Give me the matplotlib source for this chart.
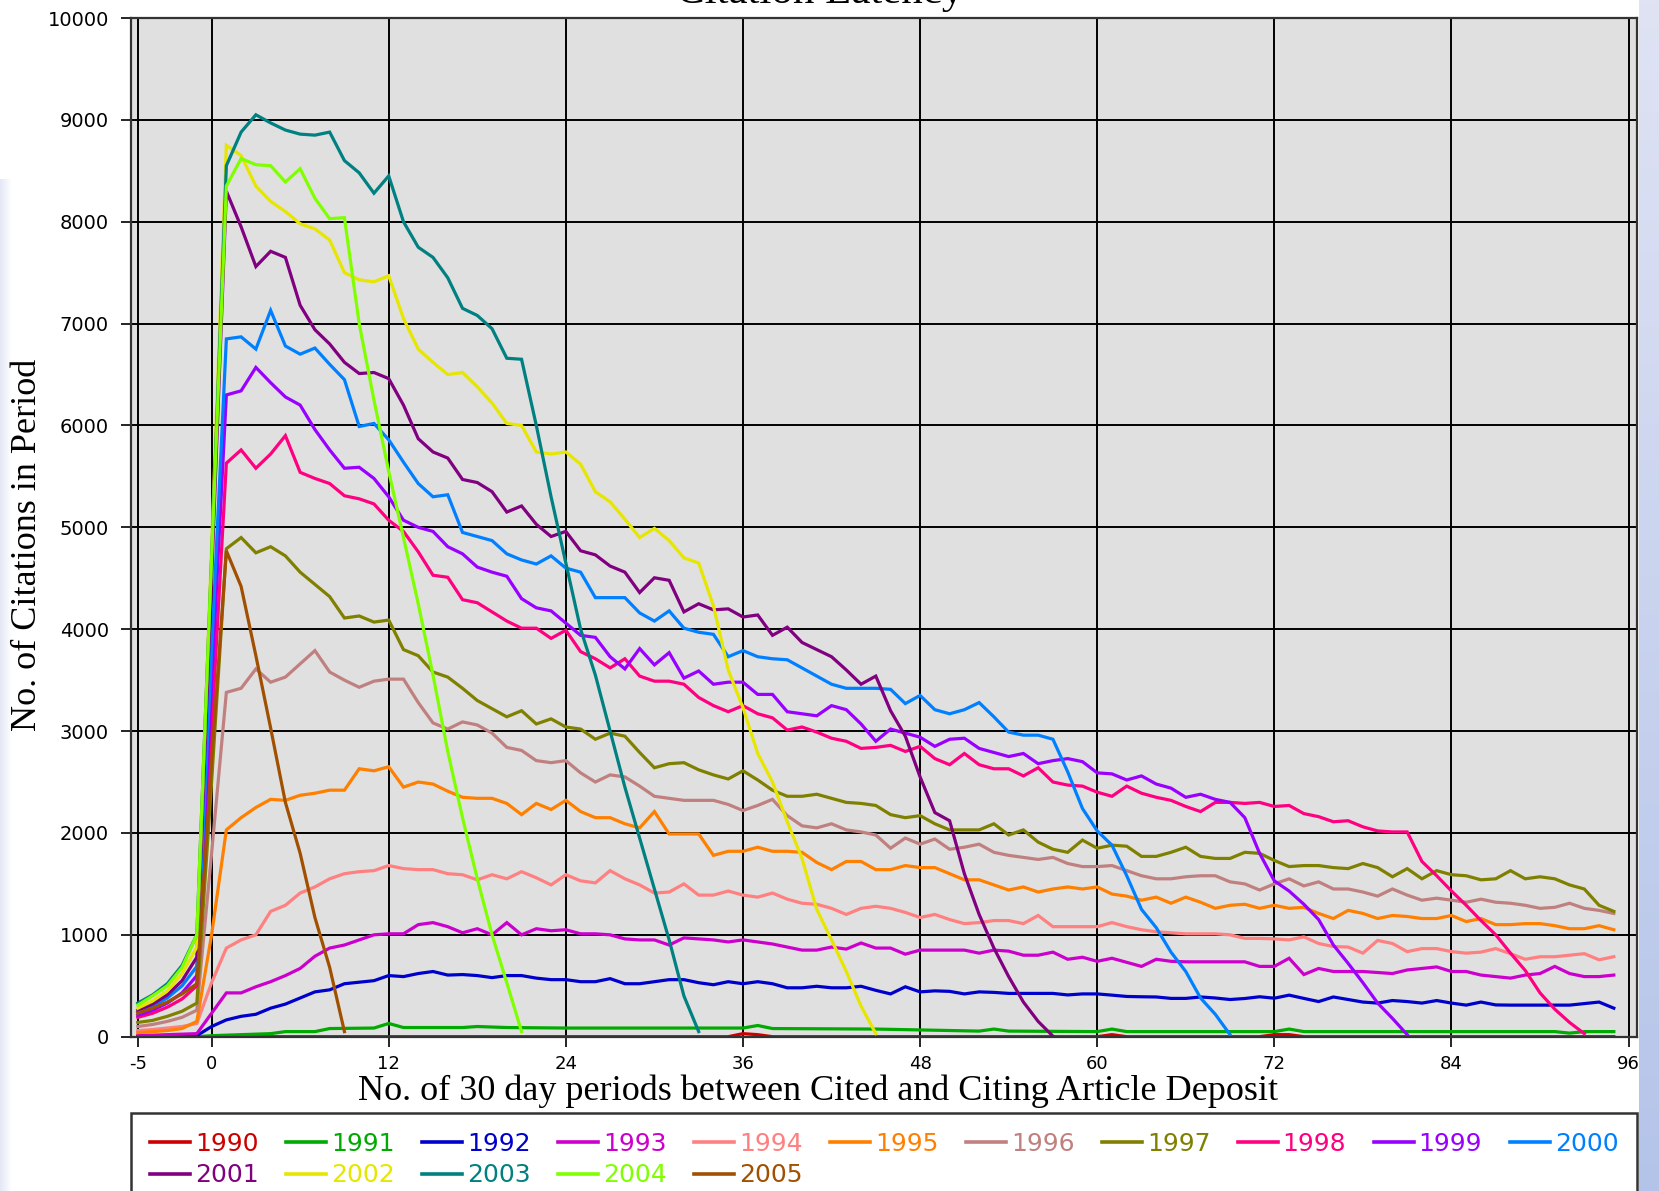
import numpy as np
import matplotlib
matplotlib.use("Agg")
import matplotlib.pyplot as plt
from matplotlib.colors import LinearSegmentedColormap

# citations per 30 day period, one list per deposit year, starting at period -5
# (1990 and 1991 are nearly flat, so they are given as period/count knots)
p1990 = [-5, 35, 36, 37, 38, 60, 61, 62, 71, 72, 73, 74, 95]
n1990 = [0, 0, 30, 20, 0, 0, 20, 0, 0, 20, 20, 0, 0]

p1991 = [-5, -1, 0, 4, 5, 7, 8, 11, 12, 13, 17, 18, 20, 24, 30, 36, 37, 38,
         45, 52, 53, 54, 60, 61, 62, 72, 73, 74, 91, 92, 93, 95]
n1991 = [0, 0, 10, 30, 50, 50, 80, 85, 130, 90, 90, 100, 90, 85, 85, 85, 110, 80,
         75, 55, 75, 55, 50, 75, 50, 50, 75, 50, 50, 35, 50, 50]

y1992 = [0, 0, 0, 0, 10, 100,
         165, 200, 220, 280, 320, 380, 440, 460, 520, 535, 550, 600,
         590, 620, 640, 605, 610, 600, 580, 600, 600, 575, 560, 560,
         540, 540, 570, 520, 520, 540, 560, 560, 530, 510, 540, 520,
         540, 520, 480, 480, 495, 480, 480, 495, 455, 420, 490, 440,
         450, 445, 420, 440, 435, 425, 425, 425, 425, 410, 420, 420,
         408, 395, 392, 390, 376, 376, 390, 380, 365, 375, 392, 378,
         408, 376, 345, 390, 365, 340, 330, 355, 345, 330, 355, 330,
         310, 340, 312, 310, 310, 310, 310, 310, 325, 340, 280]

y1993 = [15, 15, 20, 25, 30, 230,
         430, 430, 490, 540, 600, 670, 790, 870, 900, 950, 1000, 1010,
         1010, 1100, 1120, 1080, 1020, 1060, 1000, 1120, 1000, 1060, 1040, 1050,
         1010, 1010, 1000, 960, 950, 950, 900, 970, 960, 950, 930, 950,
         930, 910, 880, 850, 850, 880, 860, 920, 870, 870, 810, 850,
         850, 850, 850, 820, 850, 840, 800, 800, 830, 760, 780, 740,
         770, 730, 690, 760, 740, 735, 735, 735, 735, 735, 690, 690,
         770, 610, 670, 640, 640, 640, 630, 620, 655, 670, 685, 640,
         640, 605, 590, 575, 605, 620, 690, 620, 590, 590, 605]

y1994 = [60, 70, 85, 100, 130, 530,
         870, 950, 1000, 1230, 1290, 1410, 1470, 1550, 1600, 1620, 1630, 1680,
         1650, 1640, 1640, 1600, 1590, 1540, 1590, 1550, 1620, 1560, 1490, 1590,
         1530, 1510, 1630, 1550, 1490, 1410, 1420, 1500, 1390, 1390, 1430, 1390,
         1370, 1410, 1350, 1310, 1300, 1260, 1200, 1260, 1280, 1260, 1220, 1170,
         1200, 1150, 1110, 1120, 1140, 1140, 1110, 1190, 1080, 1080, 1080, 1080,
         1120, 1080, 1050, 1030, 1020, 1010, 1010, 1010, 1000, 965, 965, 960,
         950, 980, 915, 885, 880, 820, 945, 915, 835, 865, 865, 835,
         820, 830, 865, 815, 760, 785, 785, 800, 815, 755, 785]

y1995 = [40, 50, 60, 80, 150, 1000,
         2030, 2150, 2250, 2330, 2320, 2370, 2390, 2420, 2420, 2630, 2610, 2650,
         2450, 2500, 2480, 2410, 2350, 2340, 2340, 2290, 2180, 2290, 2230, 2320,
         2210, 2150, 2150, 2090, 2050, 2210, 1990, 1990, 1990, 1780, 1820, 1820,
         1860, 1820, 1820, 1810, 1710, 1640, 1720, 1720, 1640, 1640, 1680, 1660,
         1660, 1600, 1540, 1540, 1490, 1440, 1470, 1420, 1450, 1470, 1450, 1470,
         1400, 1380, 1340, 1370, 1310, 1370, 1320, 1260, 1290, 1300, 1260, 1290,
         1260, 1270, 1210, 1160, 1240, 1210, 1160, 1190, 1180, 1160, 1160, 1190,
         1130, 1160, 1100, 1100, 1110, 1110, 1090, 1060, 1060, 1090, 1050]

y1996 = [100, 120, 150, 190, 260, 1800,
         3380, 3420, 3610, 3480, 3530, 3660, 3790, 3580, 3500, 3430, 3490, 3510,
         3510, 3280, 3080, 3020, 3090, 3060, 2980, 2840, 2810, 2710, 2690, 2710,
         2590, 2500, 2570, 2550, 2460, 2360, 2340, 2320, 2320, 2320, 2280, 2220,
         2270, 2330, 2170, 2070, 2050, 2090, 2030, 2010, 1980, 1850, 1950, 1890,
         1940, 1840, 1860, 1890, 1810, 1780, 1760, 1740, 1760, 1700, 1670, 1670,
         1680, 1630, 1580, 1550, 1550, 1570, 1580, 1580, 1520, 1500, 1440, 1500,
         1550, 1480, 1520, 1450, 1450, 1420, 1380, 1450, 1390, 1340, 1360, 1340,
         1320, 1350, 1320, 1310, 1290, 1260, 1270, 1310, 1260, 1240, 1210]

y1997 = [140, 160, 200, 250, 330, 2500,
         4790, 4900, 4750, 4810, 4720, 4560, 4440, 4320, 4110, 4130, 4070, 4090,
         3800, 3740, 3580, 3530, 3420, 3300, 3220, 3140, 3200, 3070, 3120, 3040,
         3020, 2920, 2980, 2950, 2790, 2640, 2680, 2690, 2620, 2570, 2530, 2610,
         2520, 2420, 2360, 2360, 2380, 2340, 2300, 2290, 2270, 2180, 2150, 2170,
         2090, 2030, 2030, 2030, 2090, 1980, 2030, 1910, 1840, 1810, 1930, 1850,
         1880, 1870, 1770, 1770, 1810, 1860, 1770, 1750, 1750, 1810, 1800, 1730,
         1670, 1680, 1680, 1660, 1650, 1700, 1660, 1570, 1650, 1550, 1630, 1590,
         1580, 1540, 1550, 1630, 1550, 1570, 1550, 1490, 1450, 1290, 1230]

y1998 = [190, 230, 290, 370, 500, 3000,
         5630, 5760, 5580, 5720, 5900, 5540, 5480, 5430, 5310, 5280, 5230, 5070,
         4960, 4760, 4530, 4510, 4290, 4260, 4170, 4080, 4010, 4010, 3910, 3990,
         3780, 3710, 3620, 3710, 3540, 3490, 3490, 3460, 3330, 3250, 3190, 3250,
         3170, 3130, 3010, 3040, 2990, 2930, 2900, 2830, 2840, 2860, 2800, 2850,
         2730, 2670, 2780, 2670, 2630, 2630, 2560, 2640, 2500, 2470, 2460, 2400,
         2360, 2460, 2390, 2350, 2320, 2260, 2210, 2300, 2300, 2290, 2300, 2260,
         2270, 2190, 2160, 2110, 2120, 2060, 2020, 2010, 2010, 1720, 1580, 1430,
         1290, 1140, 1000, 820, 650, 430, 270, 140, 30]

y1999 = [210, 260, 330, 430, 600, 3450,
         6300, 6340, 6570, 6420, 6280, 6200, 5960, 5760, 5580, 5590, 5480, 5300,
         5070, 5000, 4960, 4810, 4740, 4610, 4560, 4520, 4300, 4210, 4180, 4060,
         3940, 3920, 3730, 3610, 3810, 3650, 3770, 3520, 3590, 3460, 3480, 3480,
         3360, 3360, 3190, 3170, 3150, 3250, 3210, 3070, 2900, 3020, 2980, 2940,
         2850, 2920, 2930, 2830, 2790, 2750, 2780, 2680, 2710, 2730, 2700, 2590,
         2580, 2520, 2560, 2480, 2440, 2350, 2380, 2330, 2300, 2150, 1800, 1530,
         1430, 1300, 1150, 900, 720, 530, 330, 180, 20]

y2000 = [240, 300, 380, 500, 690, 3800,
         6850, 6870, 6750, 7130, 6780, 6700, 6760, 6600, 6450, 5990, 6020, 5860,
         5640, 5430, 5300, 5320, 4950, 4910, 4870, 4740, 4680, 4640, 4720, 4600,
         4560, 4310, 4310, 4310, 4160, 4080, 4180, 4010, 3970, 3950, 3730, 3790,
         3730, 3710, 3700, 3620, 3540, 3460, 3420, 3420, 3420, 3410, 3270, 3350,
         3210, 3170, 3210, 3280, 3140, 2990, 2960, 2960, 2920, 2600, 2240, 2020,
         1880, 1580, 1250, 1070, 830, 640, 380, 220, 20]

y2001 = [260, 320, 410, 550, 780, 4500,
         8300, 7950, 7560, 7710, 7650, 7180, 6940, 6800, 6620, 6510, 6520, 6460,
         6200, 5870, 5740, 5680, 5470, 5440, 5350, 5150, 5210, 5030, 4910, 4960,
         4770, 4730, 4620, 4560, 4360, 4505, 4480, 4170, 4250, 4190, 4200, 4120,
         4140, 3940, 4020, 3870, 3800, 3730, 3600, 3460, 3540, 3200, 2950, 2550,
         2200, 2120, 1600, 1200, 870, 590, 340, 150, 5]

y2002 = [280, 350, 450, 620, 880, 4800,
         8750, 8650, 8350, 8200, 8100, 7980, 7930, 7820, 7500, 7430, 7410, 7470,
         7050, 6750, 6620, 6500, 6520, 6380, 6220, 6020, 6000, 5740, 5720, 5740,
         5620, 5350, 5250, 5080, 4900, 4990, 4870, 4700, 4650, 4230, 3600, 3230,
         2780, 2500, 2110, 1750, 1250, 950, 640, 300, 30]

y2003 = [330, 410, 520, 700, 1000, 4700,
         8550, 8880, 9050, 8970, 8900, 8860, 8850, 8880, 8600, 8480, 8280, 8450,
         8000, 7750, 7650, 7450, 7150, 7080, 6950, 6660, 6650, 6000, 5300, 4650,
         4000, 3550, 3000, 2450, 1950, 1450, 950, 400, 50]

y2004 = [310, 400, 500, 680, 1000, 4700,
         8350, 8620, 8560, 8550, 8390, 8520, 8230, 8030, 8040, 7000, 6250, 5550,
         4900, 4250, 3550, 2800, 2150, 1550, 1000, 530, 50]

y2005 = [230, 280, 340, 420, 520, 2700,
         4770, 4420, 3740, 3030, 2300, 1800, 1170, 680, 50]

years = ["1990", "1991", "1992", "1993", "1994", "1995", "1996", "1997",
         "1998", "1999", "2000", "2001", "2002", "2003", "2004", "2005"]
colors = ["#cc0000", "#00aa00", "#0000cc", "#cc00cc", "#ff8080", "#ff8000",
          "#c08080", "#808000", "#ff0080", "#9900ff", "#0080ff", "#800080",
          "#e6e600", "#008080", "#80ff00", "#a05000"]
dense = [y1992, y1993, y1994, y1995, y1996, y1997, y1998, y1999,
         y2000, y2001, y2002, y2003, y2004, y2005]

xticks = [-5, 0, 12, 24, 36, 48, 60, 72, 84, 96]
yticks = list(range(0, 10001, 1000))

W, H = 1659, 1191
fig = plt.figure(figsize=(W / 100, H / 100), dpi=100)
fig.patch.set_facecolor("white")

# blue edge strips of the slide background
grad = np.linspace(0, 1, 256).reshape(-1, 1)
right = fig.add_axes([1639 / W, 0, 20 / W, 1])
right.imshow(grad, aspect="auto",
             cmap=LinearSegmentedColormap.from_list("r", ["#dfe3f4", "#b4c4e9"]))
right.axis("off")
hgrad = np.linspace(0, 1, 64).reshape(1, -1)
left = fig.add_axes([0, 0, 12 / W, 0.85])
left.imshow(hgrad, aspect="auto",
            cmap=LinearSegmentedColormap.from_list("l", ["#e4e8f6", "#ffffff"]))
left.axis("off")

ax = fig.add_axes([131 / W, (H - 1036.7) / H, (1637 - 131) / W, (1036.7 - 18) / H])
ax.set_facecolor("#e0e0e0")

series = [(p1990, n1990), (p1991, n1991)]
for ys in dense:
    series.append((np.arange(-5, -5 + len(ys)), ys))

lines = []
for (px, ny), yr, col in zip(series, years, colors):
    ln, = ax.plot(px, ny, color=col, lw=2.3, label=yr, solid_joinstyle="miter")
    lines.append(ln)

ax.set_xlim(-5.46, 96.57)
ax.set_ylim(0, 10000)
ax.set_xticks(xticks)
ax.set_yticks(yticks)
ax.set_xticklabels([str(t) for t in xticks], fontsize=13)
ax.set_yticklabels([str(t) for t in yticks], fontsize=14)
ax.grid(True, color="black", lw=1.4)
ax.set_axisbelow(True)
ax.tick_params(direction="out", length=7, width=1.2, color="black", pad=6)
ax.tick_params(axis="y", pad=9)
for s in ax.spines.values():
    s.set_color("#333333")
    s.set_linewidth(1.6)
    s.set_zorder(3)

fig.text(820 / W, 1 - 3 / H, "Citation Latency", family="Liberation Serif",
         fontsize=31, ha="center", va="baseline")
fig.text(818 / W, 1 - 1091 / H, "No. of 30 day periods between Cited and Citing Article Deposit",
         family="Liberation Serif", fontsize=26, ha="center", va="center")
fig.text(27.5 / W, 1 - 545 / H, "No. of Citations in Period", family="Liberation Serif",
         fontsize=26, ha="center", va="center", rotation=90)

# legend reads row by row: 1990..2000 then 2001..2005
order = [0, 11, 1, 12, 2, 13, 3, 14, 4, 15, 5, 6, 7, 8, 9, 10]
leg = fig.legend([lines[i] for i in order], [years[i] for i in order],
                 loc="upper left", bbox_to_anchor=(131 / W, 1 - 1113 / H, (1637 - 131) / W, 0),
                 mode="expand", ncol=11, fontsize=18, frameon=True, fancybox=False,
                 borderaxespad=0, borderpad=0.75, handlelength=1.6, handletextpad=0.2,
                 labelspacing=0.3)
leg.get_frame().set_edgecolor("black")
leg.get_frame().set_linewidth(1.8)
for txt, ln in zip(leg.get_texts(), leg.get_lines()):
    txt.set_color(ln.get_color())
    ln.set_linewidth(2.6)

fig.savefig("out.png", dpi=100)
